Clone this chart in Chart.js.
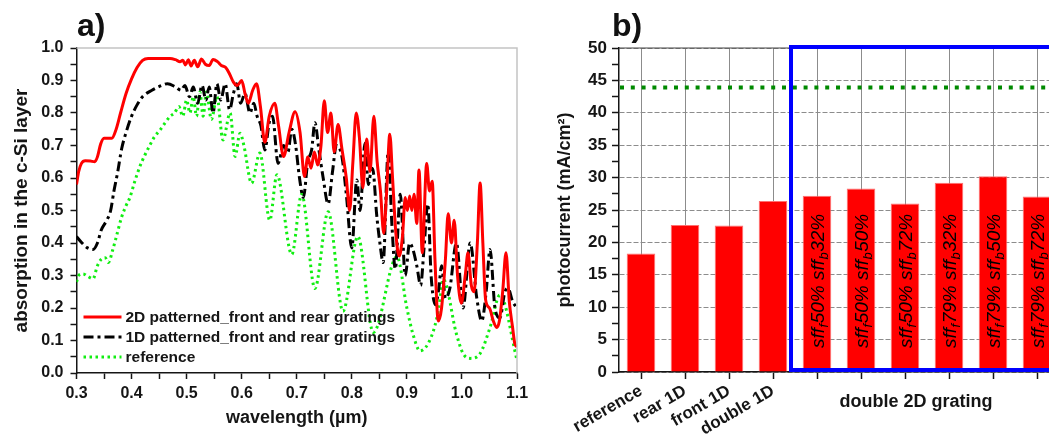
<!DOCTYPE html>
<html>
<head>
<meta charset="utf-8">
<script src="https://cdn.jsdelivr.net/npm/chart.js@4.4.1/dist/chart.umd.min.js"></script>
<style>
html, body { margin:0; padding:0; background:#fff; overflow:hidden; width:1049px; height:438px; }
#panelA { position:absolute; left:0; top:0; }
#panelB { position:absolute; left:540px; top:0; }
.tag { position:absolute; font:bold 32px "Liberation Sans", Arial, sans-serif; line-height:1; color:#111; }
</style>
</head>
<body>
<div id="panelA"><canvas id="absChart" width="535" height="438"></canvas></div>
<div id="panelB"><canvas id="currentChart" width="530" height="438"></canvas></div>
<div class="tag" style="left:77px; top:9px;">a)</div>
<div class="tag" style="left:612px; top:9px;">b)</div>
<script>
// ---- panel a: absorption spectra ----
const wl2D = [0.300,0.304,0.309,0.316,0.325,0.333,0.338,0.344,0.350,0.358,0.364,0.372,0.380,0.390,0.400,0.410,0.420,0.430,0.450,0.470,0.480,0.488,0.493,0.498,0.503,0.508,0.514,0.520,0.527,0.534,0.541,0.548,0.556,0.563,0.571,0.578,0.585,0.592,0.600,0.606,0.612,0.620,0.627,0.634,0.642,0.650,0.660,0.667,0.676,0.686,0.697,0.706,0.714,0.720,0.726,0.732,0.738,0.744,0.750,0.756,0.762,0.768,0.775,0.782,0.790,0.796,0.802,0.808,0.814,0.820,0.827,0.833,0.840,0.846,0.852,0.858,0.863,0.869,0.874,0.880,0.886,0.892,0.897,0.901,0.905,0.909,0.913,0.918,0.922,0.928,0.936,0.941,0.946,0.951,0.957,0.963,0.970,0.975,0.981,0.986,0.992,0.999,1.006,1.011,1.017,1.022,1.028,1.033,1.038,1.043,1.050,1.057,1.063,1.068,1.074,1.080,1.086,1.092,1.096,1.100];
const abs2D = [0.58,0.62,0.645,0.653,0.652,0.650,0.665,0.705,0.722,0.722,0.722,0.750,0.800,0.860,0.905,0.940,0.962,0.968,0.968,0.968,0.964,0.958,0.962,0.948,0.964,0.945,0.962,0.942,0.966,0.950,0.946,0.965,0.958,0.946,0.940,0.920,0.895,0.885,0.900,0.860,0.830,0.870,0.890,0.820,0.710,0.790,0.830,0.760,0.666,0.740,0.804,0.740,0.605,0.665,0.630,0.680,0.640,0.700,0.838,0.740,0.800,0.680,0.765,0.690,0.600,0.500,0.650,0.800,0.720,0.570,0.720,0.620,0.790,0.650,0.560,0.430,0.550,0.735,0.600,0.430,0.360,0.420,0.540,0.500,0.545,0.500,0.550,0.460,0.625,0.370,0.645,0.560,0.590,0.350,0.160,0.200,0.350,0.490,0.400,0.470,0.300,0.215,0.300,0.370,0.270,0.250,0.400,0.585,0.400,0.225,0.200,0.160,0.140,0.160,0.250,0.370,0.220,0.140,0.090,0.080];

const wl1D = [0.300,0.310,0.320,0.330,0.338,0.345,0.355,0.362,0.368,0.375,0.382,0.390,0.400,0.410,0.420,0.437,0.455,0.465,0.480,0.490,0.497,0.505,0.512,0.520,0.528,0.535,0.541,0.548,0.555,0.562,0.570,0.578,0.585,0.591,0.598,0.606,0.615,0.622,0.628,0.635,0.642,0.650,0.656,0.666,0.676,0.684,0.691,0.698,0.705,0.712,0.720,0.727,0.733,0.740,0.748,0.757,0.765,0.772,0.782,0.790,0.800,0.809,0.815,0.824,0.830,0.836,0.839,0.845,0.851,0.857,0.866,0.873,0.879,0.888,0.897,0.905,0.911,0.918,0.925,0.931,0.938,0.944,0.952,0.958,0.963,0.970,0.978,0.990,1.002,1.015,1.027,1.036,1.044,1.051,1.060,1.069,1.078,1.084,1.092,1.100];
const abs1D = [0.420,0.400,0.385,0.380,0.400,0.440,0.470,0.500,0.560,0.620,0.690,0.740,0.790,0.825,0.850,0.870,0.885,0.890,0.880,0.870,0.885,0.850,0.880,0.830,0.885,0.840,0.880,0.800,0.890,0.840,0.890,0.810,0.860,0.890,0.830,0.860,0.800,0.830,0.790,0.760,0.686,0.770,0.790,0.645,0.700,0.680,0.750,0.700,0.600,0.540,0.650,0.686,0.770,0.690,0.600,0.520,0.620,0.700,0.666,0.550,0.385,0.594,0.500,0.707,0.580,0.630,0.620,0.490,0.400,0.340,0.680,0.450,0.320,0.550,0.300,0.400,0.380,0.330,0.270,0.380,0.520,0.300,0.210,0.260,0.330,0.230,0.260,0.400,0.200,0.400,0.230,0.160,0.250,0.380,0.200,0.170,0.250,0.260,0.220,0.200];

const wlRef = [0.300,0.304,0.312,0.320,0.330,0.338,0.345,0.352,0.358,0.366,0.374,0.382,0.390,0.397,0.405,0.415,0.424,0.433,0.442,0.452,0.461,0.470,0.478,0.486,0.493,0.500,0.506,0.512,0.518,0.524,0.530,0.536,0.545,0.555,0.566,0.579,0.588,0.597,0.604,0.618,0.633,0.651,0.664,0.691,0.709,0.733,0.757,0.784,0.811,0.839,0.882,0.900,0.911,0.924,0.944,0.957,0.966,0.990,1.002,1.015,1.033,1.051,1.069,1.100];
const absRef = [0.280,0.300,0.305,0.298,0.290,0.330,0.350,0.355,0.340,0.380,0.430,0.480,0.515,0.540,0.585,0.635,0.670,0.700,0.728,0.748,0.770,0.790,0.800,0.820,0.790,0.840,0.800,0.850,0.790,0.865,0.790,0.865,0.780,0.850,0.717,0.800,0.666,0.738,0.700,0.584,0.677,0.470,0.610,0.365,0.550,0.260,0.496,0.190,0.420,0.125,0.358,0.200,0.120,0.068,0.110,0.190,0.288,0.120,0.060,0.045,0.060,0.140,0.240,0.040];

// ---- panel b: photocurrent ----
const barCategories = ['reference', 'rear 1D', 'front 1D', 'double 1D', 'double 2D', 'double 2D', 'double 2D', 'double 2D', 'double 2D', 'double 2D'];
const photocurrent = [18.3, 22.7, 22.6, 26.4, 27.2, 28.3, 26.0, 29.2, 30.2, 27.1];
const sffFront = [null, null, null, null, 50, 50, 50, 79, 79, 79];
const sffBack = [null, null, null, null, 32, 50, 72, 32, 50, 72];
const groupLabel = 'double 2D grating';
const dottedLevel = 43.9;

const FONT = '"Liberation Sans", Arial, sans-serif';
const INK = '#151515';

function toPoints(xs, ys) {
    return xs.map((x, i) => ({ x: x, y: ys[i] }));
}

function halfStepLabel(v) {
    const k = Math.round(v * 20);
    return k % 2 === 0 ? (k / 20).toFixed(1) : '';
}

const frameA = {
    id: 'frameA',
    afterDraw(chart) {
        const { ctx, chartArea: a } = chart;
        ctx.save();
        ctx.strokeStyle = '#c4c4c4';
        ctx.lineWidth = 1.5;
        ctx.beginPath();
        ctx.moveTo(a.left, a.top);
        ctx.lineTo(a.right, a.top);
        ctx.lineTo(a.right, a.bottom);
        ctx.stroke();
        ctx.restore();
    }
};

const legendA = {
    id: 'legendA',
    afterDraw(chart) {
        const { ctx, chartArea: a } = chart;
        ctx.save();
        ctx.font = 'bold 15.5px ' + FONT;
        ctx.textBaseline = 'middle';
        chart.data.datasets.forEach((ds, i) => {
            const y = a.bottom - 56 + i * 20;
            ctx.strokeStyle = ds.borderColor;
            ctx.lineWidth = ds.borderWidth;
            ctx.setLineDash(ds.borderDash || []);
            ctx.beginPath();
            ctx.moveTo(a.left + 7, y);
            ctx.lineTo(a.left + 45, y);
            ctx.stroke();
            ctx.setLineDash([]);
            ctx.fillStyle = INK;
            ctx.fillText(ds.label, a.left + 49, y + 1);
        });
        ctx.restore();
    }
};

new Chart(document.getElementById('absChart'), {
    type: 'line',
    data: {
        datasets: [
            {
                label: '2D patterned_front and rear gratings',
                data: toPoints(wl2D, abs2D),
                borderColor: '#ff0000',
                borderWidth: 3,
                pointRadius: 0,
                cubicInterpolationMode: 'monotone'
            },
            {
                label: '1D patterned_front and rear gratings',
                data: toPoints(wl1D, abs1D),
                borderColor: '#000000',
                borderWidth: 3,
                borderDash: [10, 4, 3, 4],
                pointRadius: 0,
                cubicInterpolationMode: 'monotone'
            },
            {
                label: 'reference',
                data: toPoints(wlRef, absRef),
                borderColor: '#11ee11',
                borderWidth: 3,
                borderDash: [2.5, 3.5],
                pointRadius: 0,
                cubicInterpolationMode: 'monotone'
            }
        ]
    },
    options: {
        responsive: false,
        animation: false,
        devicePixelRatio: 1,
        layout: { padding: { left: 0, right: 18, top: 48, bottom: 0 } },
        plugins: { legend: { display: false }, tooltip: { enabled: false } },
        scales: {
            x: {
                type: 'linear',
                min: 0.3,
                max: 1.1,
                ticks: {
                    stepSize: 0.05, autoSkip: false, maxRotation: 0,
                    callback: halfStepLabel,
                    font: { family: FONT, size: 16, weight: 'bold' }, color: INK, padding: 5
                },
                grid: { drawOnChartArea: false, tickLength: 6, tickColor: INK, tickWidth: 1.5 },
                border: { color: INK, width: 1.5 },
                title: {
                    display: true, text: 'wavelength (\u00b5m)', color: INK,
                    font: { family: FONT, size: 18, weight: 'bold' }, padding: { top: 0, bottom: 9 }
                },
                afterFit(s) { s.height = 65; }
            },
            y: {
                min: 0,
                max: 1,
                ticks: {
                    stepSize: 0.05, autoSkip: false,
                    callback: halfStepLabel,
                    font: { family: FONT, size: 16, weight: 'bold' }, color: INK, padding: 7
                },
                grid: { drawOnChartArea: false, tickLength: 6, tickColor: INK, tickWidth: 1.5 },
                border: { color: INK, width: 1.5 },
                title: {
                    display: true, text: 'absorption in the c-Si layer', color: INK,
                    font: { family: FONT, size: 19, weight: 'bold' }, padding: { top: 10, bottom: 0 }
                },
                afterFit(s) { s.width = 76.5; }
            }
        }
    },
    plugins: [frameA, legendA]
});

const overlayB = {
    id: 'overlayB',
    afterDatasetsDraw(chart) {
        const { ctx, chartArea: a, scales: { x: xs, y: ys } } = chart;
        ctx.save();

        // rotated labels inside the 2D-grating bars
        ctx.fillStyle = '#000';
        ctx.textBaseline = 'alphabetic';
        sffFront.forEach((f, i) => {
            if (f === null) return;
            ctx.save();
            ctx.translate(xs.getPixelForValue(i), ys.getPixelForValue(3.7));
            ctx.rotate(-Math.PI / 2);
            const parts = [
                ['sff', false], ['f', true], [f + '% sff', false], ['b', true], [sffBack[i] + '%', false]
            ];
            let cx = 0;
            parts.forEach(([t, sub]) => {
                ctx.font = sub ? 'italic 13px ' + FONT : 'italic 19px ' + FONT;
                ctx.fillText(t, cx, sub ? 11 : 6.5);
                cx += ctx.measureText(t).width + 0.5;
            });
            ctx.restore();
        });

        // top border
        ctx.strokeStyle = '#444';
        ctx.lineWidth = 1;
        ctx.beginPath();
        ctx.moveTo(a.left, a.top);
        ctx.lineTo(a.right, a.top);
        ctx.stroke();

        // dark green dotted level
        const yl = ys.getPixelForValue(dottedLevel);
        ctx.strokeStyle = '#008a00';
        ctx.lineWidth = 4;
        ctx.setLineDash([4, 6.8]);
        ctx.beginPath();
        ctx.moveTo(a.left + 1, yl);
        ctx.lineTo(a.right + 20, yl);
        ctx.stroke();
        ctx.setLineDash([]);

        // blue box around the double 2D group
        const bx = (xs.getPixelForValue(3) + xs.getPixelForValue(4)) / 2 - 4;
        ctx.strokeStyle = '#0000ff';
        ctx.lineWidth = 4;
        ctx.strokeRect(bx, a.top - 1, a.right + 40 - bx, a.bottom - a.top - 1);

        // group caption
        ctx.fillStyle = INK;
        ctx.font = 'bold 18px ' + FONT;
        ctx.textAlign = 'center';
        ctx.textBaseline = 'middle';
        ctx.fillText(groupLabel, xs.getPixelForValue(6.25), a.bottom + 30);
        ctx.restore();
    }
};

new Chart(document.getElementById('currentChart'), {
    type: 'bar',
    data: {
        labels: barCategories,
        datasets: [{
            label: 'photocurrent',
            data: photocurrent,
            backgroundColor: '#ff0000',
            borderColor: '#ff7070',
            borderWidth: 1,
            barPercentage: 0.65,
            categoryPercentage: 1
        }]
    },
    options: {
        responsive: false,
        animation: false,
        devicePixelRatio: 1,
        layout: { padding: { left: 0, right: 11, top: 48, bottom: 0 } },
        plugins: { legend: { display: false }, tooltip: { enabled: false } },
        scales: {
            x: {
                ticks: {
                    autoSkip: false, minRotation: 30, maxRotation: 30,
                    callback: (v, i) => (sffFront[i] === null ? barCategories[i] : ''),
                    font: { family: FONT, size: 17, weight: 'bold' }, color: INK, padding: 2
                },
                grid: { offset: false, color: '#8c8c8c', tickLength: 7, tickColor: INK, tickWidth: 1.5 },
                border: { color: INK, width: 1.5 },
                afterFit(s) { s.height = 66; }
            },
            y: {
                min: 0,
                max: 50,
                ticks: {
                    stepSize: 2.5, autoSkip: false,
                    callback: v => (v % 5 === 0 ? String(v) : ''),
                    font: { family: FONT, size: 17, weight: 'bold' }, color: INK, padding: 5
                },
                grid: {
                    color: c => (c.tick && c.tick.value % 5 === 0 ? '#8c8c8c' : 'rgba(0,0,0,0)'),
                    tickLength: 7, tickColor: INK, tickWidth: 1.5
                },
                border: { color: INK, width: 1.5, dash: [5, 2] },
                title: {
                    display: true, text: 'photocurrent (mA/cm\u00b2)', color: INK,
                    font: { family: FONT, size: 18, weight: 'bold' }, padding: { top: 14, bottom: 0 }
                },
                afterFit(s) { s.width = 79; }
            }
        }
    },
    plugins: [overlayB]
});
</script>
</body>
</html>
